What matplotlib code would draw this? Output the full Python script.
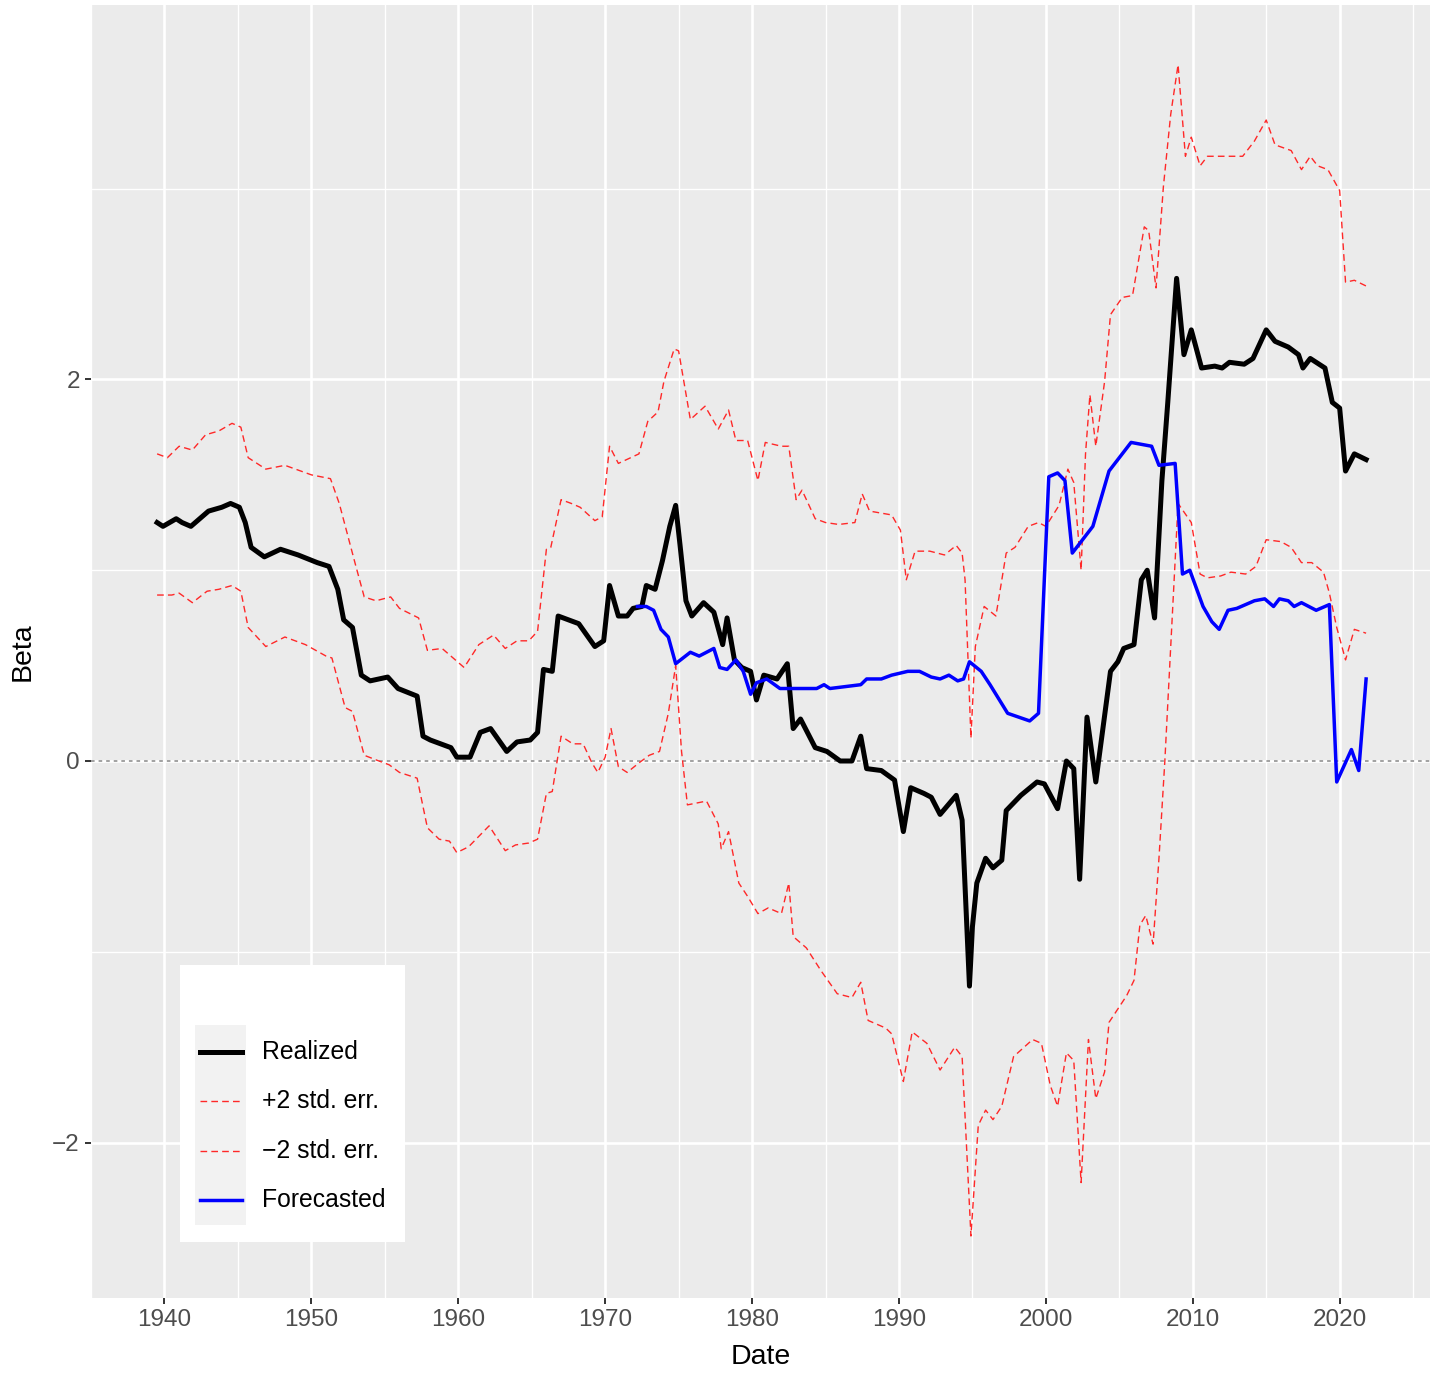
import numpy as np
import matplotlib
matplotlib.use("Agg")
import matplotlib.pyplot as plt
from matplotlib.patches import Rectangle
from matplotlib.lines import Line2D

plt.rcParams['font.family'] = ['Liberation Sans', 'DejaVu Sans']

# realized beta
real_year = [1939.5, 1939.9, 1940.8, 1941.2, 1941.8, 1943.0, 1943.9, 1944.5, 1945.1, 1945.5,
             1945.9, 1946.8, 1947.9, 1949.1, 1950.4, 1951.2, 1951.8, 1952.2, 1952.8, 1953.4,
             1954.0, 1955.2, 1955.9, 1957.2, 1957.6, 1958.1, 1959.5, 1959.9, 1960.8, 1961.5,
             1962.2, 1963.3, 1964.0, 1964.9, 1965.4, 1965.8, 1966.4, 1966.8, 1968.2, 1969.3,
             1969.9, 1970.3, 1970.9, 1971.5, 1971.9, 1972.5, 1972.8, 1973.4, 1973.9, 1974.4,
             1974.8, 1975.1, 1975.5, 1975.9, 1976.7, 1977.4, 1978.0, 1978.3, 1978.8, 1979.3,
             1979.9, 1980.3, 1980.8, 1981.7, 1982.4, 1982.8, 1983.3, 1984.3, 1985.1, 1986.0,
             1986.8, 1987.4, 1987.8, 1988.8, 1989.7, 1990.3, 1990.8, 1991.7, 1992.2, 1992.8,
             1993.9, 1994.3, 1994.8, 1995.0, 1995.3, 1995.9, 1996.4, 1997.0, 1997.3, 1998.3,
             1999.4, 1999.9, 2000.8, 2001.4, 2001.9, 2002.3, 2002.8, 2003.4, 2004.4, 2004.9,
             2005.3, 2006.0, 2006.5, 2006.9, 2007.4, 2007.9, 2008.3, 2008.9, 2009.4, 2009.9,
             2010.6, 2011.5, 2012.0, 2012.5, 2013.5, 2014.1, 2015.0, 2015.6, 2016.5, 2017.2,
             2017.5, 2018.0, 2019.0, 2019.5, 2020.0, 2020.4, 2021.0, 2021.8]
real_beta = [1.25, 1.23, 1.27, 1.25, 1.23, 1.31, 1.33, 1.35, 1.33, 1.25,
             1.12, 1.07, 1.11, 1.08, 1.04, 1.02, 0.90, 0.74, 0.70, 0.45,
             0.42, 0.44, 0.38, 0.34, 0.13, 0.11, 0.07, 0.02, 0.02, 0.15,
             0.17, 0.05, 0.10, 0.11, 0.15, 0.48, 0.47, 0.76, 0.72, 0.60,
             0.63, 0.92, 0.76, 0.76, 0.80, 0.81, 0.92, 0.90, 1.05, 1.23,
             1.34, 1.13, 0.84, 0.76, 0.83, 0.78, 0.61, 0.75, 0.53, 0.49,
             0.47, 0.32, 0.45, 0.43, 0.51, 0.17, 0.22, 0.07, 0.05, 0.00,
             0.00, 0.13, -0.04, -0.05, -0.10, -0.37, -0.14, -0.17, -0.19, -0.28,
             -0.18, -0.31, -1.18, -0.87, -0.64, -0.51, -0.56, -0.52, -0.26, -0.18,
             -0.11, -0.12, -0.25, 0.00, -0.04, -0.62, 0.23, -0.11, 0.47, 0.52,
             0.59, 0.61, 0.95, 1.00, 0.75, 1.47, 1.88, 2.53, 2.13, 2.26,
             2.06, 2.07, 2.06, 2.09, 2.08, 2.11, 2.26, 2.20, 2.17, 2.13,
             2.06, 2.11, 2.06, 1.88, 1.85, 1.52, 1.61, 1.58]

# forecasted beta
fc_year = [1972.2, 1972.8, 1973.3, 1973.8, 1974.3, 1974.8, 1975.8, 1976.4, 1977.4, 1977.8,
           1978.3, 1978.9, 1979.4, 1979.9, 1980.3, 1981.0, 1981.9, 1984.4, 1984.9, 1985.3,
           1987.4, 1987.8, 1988.8, 1989.5, 1990.6, 1991.4, 1992.2, 1992.8, 1993.4, 1994.0,
           1994.4, 1994.8, 1995.6, 1996.2, 1997.4, 1998.9, 1999.5, 2000.2, 2000.8, 2001.3,
           2001.8, 2003.2, 2004.3, 2004.8, 2005.8, 2007.2, 2007.7, 2008.8, 2009.3, 2009.8,
           2010.7, 2011.3, 2011.8, 2012.4, 2013.0, 2014.2, 2014.9, 2015.5, 2015.9, 2016.5,
           2016.9, 2017.4, 2018.4, 2019.3, 2019.8, 2020.8, 2021.3, 2021.8]
fc_beta = [0.81, 0.81, 0.79, 0.69, 0.65, 0.51, 0.57, 0.55, 0.59, 0.49,
           0.48, 0.53, 0.47, 0.35, 0.41, 0.43, 0.38, 0.38, 0.40, 0.38,
           0.40, 0.43, 0.43, 0.45, 0.47, 0.47, 0.44, 0.43, 0.45, 0.42,
           0.43, 0.52, 0.47, 0.40, 0.25, 0.21, 0.25, 1.49, 1.51, 1.47,
           1.09, 1.23, 1.52, 1.57, 1.67, 1.65, 1.55, 1.56, 0.98, 1.00,
           0.81, 0.73, 0.69, 0.79, 0.80, 0.84, 0.85, 0.81, 0.85, 0.84,
           0.81, 0.83, 0.79, 0.82, -0.11, 0.06, -0.05, 0.43]

# +2 standard error band
up_year = [1939.5, 1940.2, 1941.0, 1941.9, 1942.8, 1943.7, 1944.6, 1945.2, 1945.7, 1946.9,
           1948.2, 1950.0, 1951.3, 1951.9, 1953.0, 1953.6, 1954.4, 1955.4, 1956.0, 1957.3,
           1957.9, 1958.9, 1960.4, 1961.4, 1962.4, 1963.2, 1964.0, 1964.8, 1965.4, 1966.0,
           1966.3, 1967.0, 1967.7, 1968.3, 1969.3, 1969.8, 1970.3, 1970.9, 1972.3, 1972.9,
           1973.6, 1974.0, 1974.7, 1975.0, 1975.8, 1976.8, 1977.7, 1978.4, 1978.9, 1979.7,
           1980.4, 1980.9, 1982.0, 1982.5, 1983.0, 1983.4, 1984.3, 1985.0, 1985.9, 1987.0,
           1987.5, 1988.0, 1989.5, 1990.1, 1990.5, 1991.1, 1992.1, 1993.1, 1993.9, 1994.3,
           1994.5, 1994.9, 1995.2, 1995.8, 1996.6, 1997.3, 1997.9, 1998.8, 1999.5, 2000.0,
           2000.9, 2001.5, 2001.9, 2002.4, 2002.7, 2003.0, 2003.4, 2004.0, 2004.4, 2005.2,
           2005.9, 2006.7, 2007.0, 2007.5, 2008.0, 2008.5, 2009.0, 2009.5, 2009.9, 2010.5,
           2011.0, 2012.4, 2013.4, 2014.2, 2015.0, 2015.6, 2016.7, 2017.4, 2018.0, 2018.5,
           2019.2, 2020.0, 2020.4, 2021.0, 2021.8]
up_beta = [1.61, 1.59, 1.65, 1.63, 1.71, 1.73, 1.77, 1.75, 1.59, 1.53,
           1.55, 1.50, 1.48, 1.35, 1.03, 0.86, 0.84, 0.86, 0.80, 0.75,
           0.58, 0.59, 0.49, 0.61, 0.66, 0.59, 0.63, 0.63, 0.68, 1.11,
           1.12, 1.37, 1.35, 1.33, 1.26, 1.28, 1.65, 1.56, 1.61, 1.78,
           1.83, 1.99, 2.16, 2.15, 1.79, 1.86, 1.74, 1.84, 1.68, 1.68,
           1.47, 1.67, 1.65, 1.65, 1.37, 1.42, 1.27, 1.25, 1.24, 1.25,
           1.40, 1.31, 1.29, 1.21, 0.95, 1.10, 1.10, 1.08, 1.13, 1.09,
           0.95, 0.12, 0.60, 0.81, 0.76, 1.09, 1.12, 1.23, 1.25, 1.23,
           1.34, 1.53, 1.46, 1.00, 1.61, 1.92, 1.65, 1.99, 2.34, 2.43,
           2.44, 2.80, 2.78, 2.48, 3.01, 3.39, 3.65, 3.17, 3.27, 3.12,
           3.17, 3.17, 3.17, 3.25, 3.36, 3.23, 3.20, 3.10, 3.17, 3.12,
           3.10, 2.99, 2.51, 2.52, 2.49]

# -2 standard error band
lo_year = [1939.5, 1940.5, 1941.0, 1941.9, 1942.9, 1943.7, 1944.6, 1945.2, 1945.7, 1946.9,
           1948.2, 1949.6, 1951.0, 1951.4, 1952.3, 1952.8, 1953.6, 1954.6, 1955.3, 1956.0,
           1957.2, 1957.9, 1958.7, 1959.4, 1959.9, 1960.7, 1962.1, 1963.2, 1963.9, 1964.8,
           1965.4, 1966.0, 1966.4, 1967.0, 1967.8, 1968.5, 1969.1, 1969.5, 1970.0, 1970.4,
           1970.9, 1971.5, 1972.3, 1973.0, 1973.7, 1974.3, 1974.8, 1975.2, 1975.6, 1976.9,
           1977.7, 1977.9, 1978.4, 1979.1, 1979.7, 1980.4, 1981.1, 1982.0, 1982.5, 1982.8,
           1983.7, 1984.7, 1985.8, 1986.8, 1987.4, 1987.9, 1989.1, 1989.5, 1990.3, 1990.9,
           1991.9, 1992.8, 1993.8, 1994.3, 1994.9, 1995.4, 1995.9, 1996.4, 1997.0, 1997.8,
           1999.1, 1999.7, 2000.3, 2000.8, 2001.4, 2001.9, 2002.4, 2002.9, 2003.4, 2004.0,
           2004.3, 2005.5, 2006.0, 2006.4, 2006.8, 2007.3, 2007.7, 2008.1, 2008.5, 2009.0,
           2009.9, 2010.5, 2011.0, 2011.9, 2012.6, 2013.6, 2014.3, 2015.0, 2016.0, 2016.7,
           2017.4, 2018.1, 2018.9, 2019.3, 2019.8, 2020.4, 2021.0, 2021.8]
lo_beta = [0.87, 0.87, 0.88, 0.83, 0.89, 0.90, 0.92, 0.89, 0.70, 0.60,
           0.65, 0.61, 0.55, 0.54, 0.28, 0.26, 0.03, 0.00, -0.02, -0.06,
           -0.09, -0.35, -0.41, -0.42, -0.48, -0.45, -0.34, -0.47, -0.44, -0.43,
           -0.41, -0.17, -0.16, 0.13, 0.09, 0.09, -0.01, -0.06, 0.02, 0.17,
           -0.03, -0.06, -0.01, 0.03, 0.05, 0.25, 0.50, 0.05, -0.23, -0.21,
           -0.33, -0.46, -0.37, -0.64, -0.71, -0.80, -0.77, -0.80, -0.64, -0.92,
           -0.98, -1.10, -1.22, -1.24, -1.16, -1.36, -1.40, -1.43, -1.68, -1.42,
           -1.48, -1.62, -1.50, -1.55, -2.49, -1.91, -1.83, -1.88, -1.81, -1.55,
           -1.46, -1.48, -1.70, -1.81, -1.53, -1.57, -2.21, -1.46, -1.77, -1.63,
           -1.37, -1.23, -1.15, -0.86, -0.81, -0.96, -0.51, 0.00, 0.60, 1.35,
           1.25, 0.98, 0.96, 0.97, 0.99, 0.98, 1.02, 1.16, 1.15, 1.12,
           1.04, 1.04, 0.99, 0.88, 0.70, 0.53, 0.69, 0.67]

x_major = [1940, 1950, 1960, 1970, 1980, 1990, 2000, 2010, 2020]
y_major = [-2, 0, 2]

fig = plt.figure(figsize=(14.37, 13.73), dpi=100)
ax = fig.add_axes([91 / 1437, 75 / 1373, 1339 / 1437, 1293 / 1373])
ax.set_facecolor('#EBEBEB')
for s in ax.spines.values():
    s.set_visible(False)

ax.set_xlim(1935.2, 2026.15)
ax.set_ylim(-2.815, 3.963)
ax.set_xticks(x_major)
ax.set_xticks(np.arange(1935, 2030, 10), minor=True)
ax.set_yticks(y_major)
ax.set_yticks([-1, 1, 3], minor=True)
ax.set_yticklabels(['\u22122', '0', '2'])
ax.grid(which='major', color='white', linewidth=1.9)
ax.grid(which='minor', color='white', linewidth=0.95)
ax.set_axisbelow(True)
ax.tick_params(which='major', length=4, width=1.4, color='#333333',
               labelsize=17.5, labelcolor='#4D4D4D', pad=4)
ax.tick_params(which='minor', length=0)

ax.axhline(0, color='#9a9a9a', linewidth=1.3, linestyle=(0, (2, 2.2)), zorder=1)

red_dash = dict(color='#FF2828', linewidth=1.0, dashes=(4.8, 3.0))
ax.plot(up_year, up_beta, **red_dash, zorder=2)
ax.plot(lo_year, lo_beta, **red_dash, zorder=2)
ax.plot(real_year, real_beta, color='black', linewidth=3.6, solid_joinstyle='round', zorder=3)
ax.plot(fc_year, fc_beta, color='#0000FF', linewidth=2.5, solid_joinstyle='round', zorder=4)

ax.set_xlabel('Date', fontsize=20.5, labelpad=9)
ax.set_ylabel('Beta', fontsize=20.5, labelpad=12)

# legend box drawn by hand
T = ax.transAxes
ax.add_patch(Rectangle((0.0665, 0.0433), 0.168, 0.2142, transform=T,
                       facecolor='white', edgecolor='none', zorder=10))
ax.add_patch(Rectangle((0.0777, 0.0565), 0.038, 0.1546, transform=T,
                       facecolor='#F2F2F2', edgecolor='none', zorder=11))
rows = [0.1903, 0.1524, 0.1137, 0.0758]
labels = ['Realized', '+2 std. err.', '\u22122 std. err.', 'Forecasted']
styles = [dict(color='black', linewidth=3.6),
          dict(color='#FF2828', linewidth=1.0, dashes=(4.8, 3.0)),
          dict(color='#FF2828', linewidth=1.0, dashes=(4.8, 3.0)),
          dict(color='#0000FF', linewidth=2.5)]
for yy, lab, st in zip(rows, labels, styles):
    ax.add_line(Line2D([0.0812, 0.1125], [yy, yy], transform=T, zorder=12, **st))
    ax.text(0.1277, yy, lab, transform=T, fontsize=17.8, va='center', ha='left',
            color='black', zorder=12)

fig.savefig('out.png', dpi=100)
